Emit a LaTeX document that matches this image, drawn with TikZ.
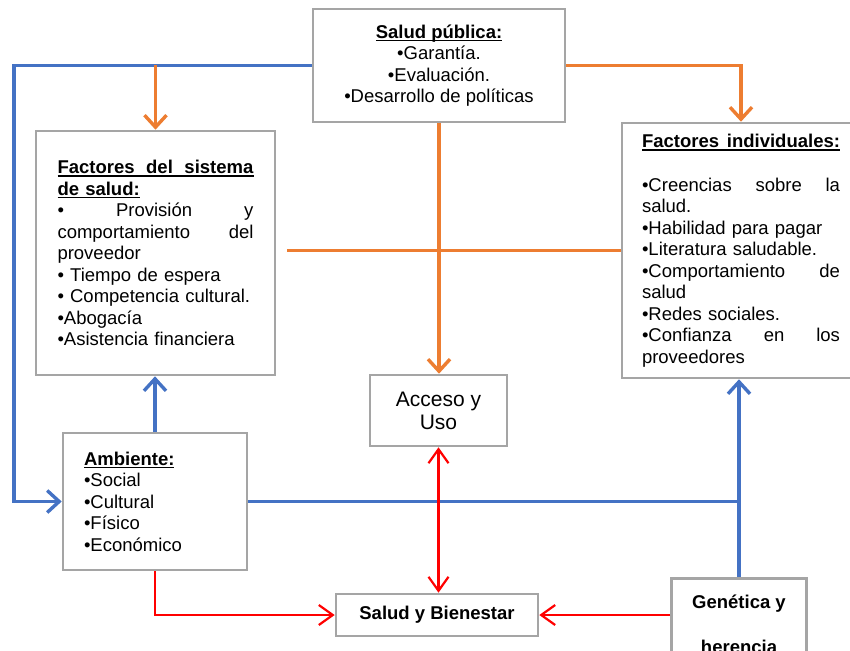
\documentclass[tikz,border=0pt]{standalone}
\usepackage{fontspec}
\setmainfont{Liberation Sans}
\usetikzlibrary{arrows.meta}

\definecolor{boxgray}{HTML}{A5A5A5}
\definecolor{cblue}{HTML}{4472C4}
\definecolor{corange}{HTML}{ED7D31}
\definecolor{cred}{HTML}{FF0000}

% underlined text with a thick rule
\newlength\ulwidth
\newcommand\ulbox[1]{\leavevmode\settowidth\ulwidth{#1}\rlap{\rule[-3.2pt]{\ulwidth}{1.7pt}}#1}
% a line stretched to a fixed width (justified), with stretchable spaces
\newcommand\jline[2]{\leavevmode{\spaceskip=0pt\xspaceskip=0pt\makebox[#1][s]{#2}}}

\begin{document}
\begin{tikzpicture}[x=1pt,y=-1pt,
  box/.style={draw=boxgray, line width=2.6pt, fill=white, inner sep=0pt,
    font=\fontsize{18.5}{21.5}\selectfont},
  blueln/.style={draw=cblue, line width=3.4pt, -{Straight Barb[length=12pt,width=22pt]}},
  bluepl/.style={draw=cblue, line width=3.4pt},
  orangeln/.style={draw=corange, line width=3.4pt, -{Straight Barb[length=12pt,width=22pt]}},
  orangepl/.style={draw=corange, line width=3pt},
  redln/.style={draw=cred, line width=2.2pt, -{Straight Barb[length=14pt,width=20pt]}},
  redboth/.style={draw=cred, line width=2.2pt, {Straight Barb[length=14pt,width=20pt]}-{Straight Barb[length=14pt,width=20pt]}}
]
\useasboundingbox (0,0) rectangle (850,650);
\clip (0,0) rectangle (850,650);

% boxes
\node[box, minimum width=252pt, minimum height=113pt, align=center] (sp) at (439,65.5)
  {\ulbox{\textbf{Salud pública:}}\\•Garantía.\\•Evaluación.\\•Desarrollo de políticas};

\node[box, minimum width=239pt, minimum height=244pt, text width=196pt, align=left] (fs) at (155.5,253)
  {\ulbox{\jline{196pt}{\textbf{Factores del sistema}}}\\
   \ulbox{\textbf{de salud:}}\\
   \jline{196pt}{• Provisión y}\\
   \jline{196pt}{comportamiento del}\\
   proveedor\\
   • Tiempo de espera\\
   • Competencia cultural.\\
   •Abogacía\\
   •Asistencia financiera};

\node[box, minimum width=238pt, minimum height=255pt, text width=198pt, align=left] (fi) at (741,250.5)
  {\ulbox{\jline{198pt}{\textbf{Factores individuales:}}}\\[22pt]
   \jline{198pt}{•Creencias sobre la}\\
   salud.\\
   •Habilidad para pagar\\
   •Literatura saludable.\\
   \jline{198pt}{•Comportamiento de}\\
   salud\\
   •Redes sociales.\\
   \jline{198pt}{•Confianza en los}\\
   proveedores};

\node[box, minimum width=137pt, minimum height=71pt, align=center,
  font=\fontsize{21}{23}\selectfont] (acc) at (438.5,410.5) {Acceso y\\Uso};

\node[box, minimum width=184pt, minimum height=137pt, text width=142pt, align=left] (amb) at (155,501.5)
  {\ulbox{\textbf{Ambiente:}}\\•Social\\•Cultural\\•Físico\\•Económico};

\node[box, minimum width=202pt, minimum height=42pt, font=\fontsize{18.5}{21.5}\selectfont\bfseries] (sb) at (437,615)
  {Salud y Bienestar};

\node[box, minimum width=135pt, minimum height=91pt, anchor=north, align=center,
  font=\fontsize{18.5}{21.5}\selectfont\bfseries] (gen) at (739,577)
  {Genética y\\[23.5pt]herencia};

% connectors
\coordinate (bl) at (14,65.5);
\coordinate (ol) at (287,250.5);

\draw[blueln] (sp.west) -- (bl) |- (amb.west);
\draw[orangeln] (fs.north |- sp.west) -- (fs.north);
\draw[orangeln] (sp.east) -| (fi.north);
\draw[orangepl] (ol) -- (fi.west);
\draw[orangeln] (sp.south) -- (sp.south |- acc.north);
\draw[blueln] (amb.north) -- (amb.north |- fs.south);
\draw[bluepl] (amb.east) -- (amb.east -| gen.north);
\draw[blueln] (gen.north) -- (gen.north |- fi.south);
\draw[redln] (amb.south) |- (sb.west);
\draw[redln] (sb.east -| gen.west) -- (sb.east);
\draw[redboth] (acc.south) -- (acc.south |- sb.north);
\end{tikzpicture}
\end{document}
